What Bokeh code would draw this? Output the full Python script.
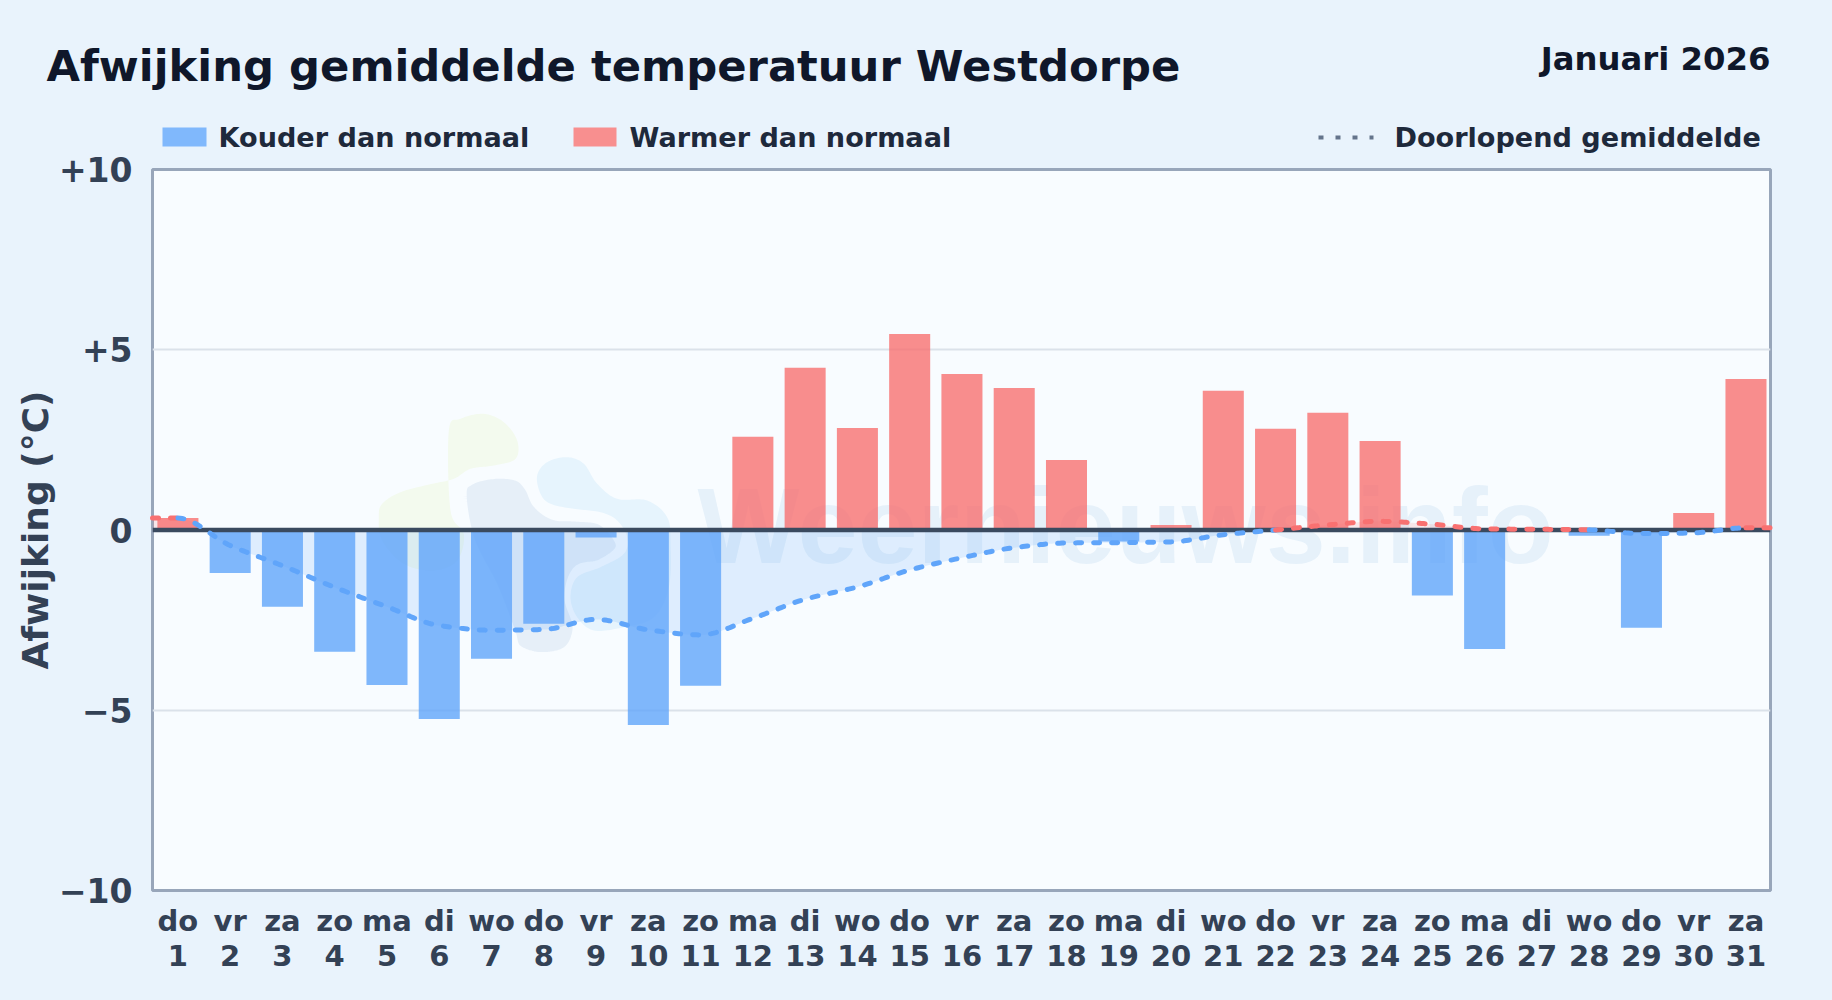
import numpy as np
from bokeh.plotting import figure
from bokeh.layouts import column
from bokeh.models import (Range1d, FixedTicker, Span, GlobalInlineStyleSheet)
from bokeh.core.properties import value
from bokeh.embed import file_html
from bokeh.resources import INLINE

# ---------- data ----------
weekdays = ["do","vr","za","zo","ma","di","wo","do","vr","za","zo","ma","di","wo","do","vr",
            "za","zo","ma","di","wo","do","vr","za","zo","ma","di","wo","do","vr","za"]
days = list(range(1, 32))
deviation = [0.33,-1.19,-2.13,-3.38,-4.30,-5.24,-3.57,-2.60,-0.21,-5.41,-4.32,2.59,4.50,2.83,5.44,4.33,
             3.94,1.94,-0.32,0.14,3.86,2.81,3.25,2.47,-1.82,-3.30,0.0,-0.16,-2.71,0.47,4.19]
running_mean = [0.33,-0.43,-0.99,-1.59,-2.13,-2.65,-2.78,-2.76,-2.48,-2.77,-2.91,-2.45,-1.92,-1.58,-1.11,-0.77,
                -0.49,-0.36,-0.35,-0.33,-0.13,0.0,0.14,0.24,0.16,0.03,0.02,0.005,-0.10,-0.08,0.06]
y_ticks = [-10,-5,0,5,10]
y_tick_labels = ["\u221210","\u22125","0","+5","+10"]

TITLE = "Afwijking gemiddelde temperatuur Westdorpe"
MONTH = "Januari 2026"
LEG = ["Kouder dan normaal", "Warmer dan normaal", "Doorlopend gemiddelde"]
FONT = "DejaVu Sans"
BG, PLOT_BG = "#e9f3fc", "#f8fcff"
BLUE, RED = "#60a5fa", "#f87171"

W, H = 1832, 1000
HEAD = 155
OVERLAP = 10
XR = (0.514, 31.469)

# ---------- header strip: title, month, legend ----------
hd = figure(width=W, height=HEAD, output_backend="svg", toolbar_location=None,
            x_range=Range1d(0, W), y_range=Range1d(HEAD, 0),
            min_border_left=0, min_border_right=0, min_border_top=0, min_border_bottom=0,
            background_fill_color=BG, border_fill_color=BG, outline_line_color=None)
hd.frame_align = False
hd.axis.visible = False
hd.grid.visible = False
hd.stylesheets = [GlobalInlineStyleSheet(css="html,body{background:%s;overflow:hidden;}" % BG)]

def label(text, x, y, size, color, align="left"):
    hd.text([x], [y], text=[text], text_font=value(FONT), text_font_style="bold",
            text_font_size=size, text_color=color, text_align=align, text_baseline="middle")

label(TITLE, 46, 65, "43.3px", "#0f172a")
label(MONTH, 1770, 58, "32.3px", "#0f172a", align="right")
label(LEG[0], 218, 137, "27.1px", "#1e293b")
label(LEG[1], 629, 137, "27.1px", "#1e293b")
label(LEG[2], 1394, 137, "27.1px", "#1e293b")
hd.quad(left=[162], right=[206], top=[127], bottom=[146], fill_color="#80b8fc", line_color=None)
hd.quad(left=[573], right=[616], top=[127], bottom=[146], fill_color="#f88f8f", line_color=None)
hd.line([1318, 1373], [137, 137], line_color="#64748b", line_width=4, line_dash="5 12")

# ---------- main chart ----------
p = figure(width=W, height=H - HEAD + OVERLAP, output_backend="svg", toolbar_location=None,
           x_range=Range1d(*XR), y_range=Range1d(-10, 10),
           min_border_left=152, min_border_right=62, min_border_top=169 - HEAD + OVERLAP, min_border_bottom=110,
           background_fill_color=PLOT_BG, border_fill_alpha=0,
           outline_line_color="#98a6ba", outline_line_width=3)
p.frame_align = False
p.margin = (-OVERLAP, 0, 0, 0)

# page pixel -> data, for the faint watermark only
F_L, F_R, F_T, F_B = 152.0, 1770.0, 169.0, 890.0
def dx(px): return XR[0] + (np.asarray(px, float) - F_L) / (F_R - F_L) * (XR[1] - XR[0])
def dy(py): return 10 - (np.asarray(py, float) - F_T) / (F_B - F_T) * 20

def smooth_closed(pts, n=14):
    P = np.array(pts, float); m = len(P); out = []
    for i in range(m):
        p0, p1, p2, p3 = P[i-1], P[i], P[(i+1) % m], P[(i+2) % m]
        for t in np.linspace(0, 1, n, endpoint=False):
            out.append(0.5*((2*p1) + (-p0+p2)*t + (2*p0-5*p1+4*p2-p3)*t*t + (-p0+3*p1-3*p2+p3)*t**3))
    return np.array(out)

def blob(pts, color, halo=False):
    Z = smooth_closed(pts)
    p.patch(dx(360 + Z[:,0]/3), dy(400 + Z[:,1]/3), fill_color=color,
            line_color=PLOT_BG if halo else None, line_width=9, line_join="round")

blob([(265,90),(300,55),(370,40),(430,65),(470,120),(465,175),(400,195),(330,205),(280,235),(215,250),
      (120,275),(65,310),(55,350),(65,420),(130,490),(220,510),(290,480),(310,400),(270,330)], "#f3faee")
blob([(305,280),(330,240),(400,222),(470,228),(505,260),(530,310),(580,345),(650,350),(720,360),(770,410),
      (775,450),(720,490),(650,510),(625,590),(650,680),(620,750),(540,768),(470,745),(450,690),(400,560),(330,420)],
     "#e6eff8", halo=True)
blob([(530,225),(560,185),(620,170),(670,190),(710,250),(770,295),(860,300),(920,350),(930,430),(925,560),
      (880,650),(790,680),(700,690),(650,650),(630,590),(650,530),(720,500),(790,460),(800,410),(770,360),
      (720,335),(640,325),(570,310),(540,280)], "#e6f4fd")
p.text(dx([697]), dy([525]), text=["Weernieuws.info"], text_font=value("Liberation Sans"),
       text_font_style="bold", text_font_size="108px",
       text_color="#3b82c4", text_alpha=0.09, text_align="left", text_baseline="alphabetic")

# smooth running-mean curve through the values
def monotone(xs, ys, n=24):
    xs, ys = np.asarray(xs, float), np.asarray(ys, float)
    h = np.diff(xs); d = np.diff(ys)/h
    m = np.zeros_like(ys)
    m[0], m[-1] = d[0], d[-1]
    for i in range(1, len(ys)-1):
        if d[i-1]*d[i] > 0:
            m[i] = 3*(h[i-1]+h[i])/((2*h[i]+h[i-1])/d[i-1] + (h[i]+2*h[i-1])/d[i])
    X, Y = [], []
    for i in range(len(h)):
        t = np.linspace(0, 1, n, endpoint=False)
        X.append(xs[i]+t*h[i])
        Y.append((2*t**3-3*t**2+1)*ys[i] + (t**3-2*t**2+t)*h[i]*m[i]
                 + (-2*t**3+3*t**2)*ys[i+1] + (t**3-t**2)*h[i]*m[i+1])
    return np.concatenate(X+[[xs[-1]]]), np.concatenate(Y+[[ys[-1]]])

lx = [XR[0]] + days + [XR[1]]
ly = [running_mean[0]] + running_mean + [running_mean[-1]]
cx, cy = monotone(lx, ly)

p.varea(cx, np.minimum(cy, 0), np.zeros_like(cy), fill_color=BLUE, fill_alpha=0.17)
p.varea(cx, np.maximum(cy, 0), np.zeros_like(cy), fill_color=RED, fill_alpha=0.15)

neg_d = [d for d, v in zip(days, deviation) if v < 0]
neg_v = [v for v in deviation if v < 0]
pos_d = [d for d, v in zip(days, deviation) if v > 0]
pos_v = [v for v in deviation if v > 0]
p.vbar(neg_d, width=0.785, bottom=0, top=neg_v, fill_color=BLUE, fill_alpha=0.8, line_color=None)
p.vbar(pos_d, width=0.785, bottom=0, top=pos_v, fill_color=RED, fill_alpha=0.8, line_color=None)

p.add_layout(Span(location=0, dimension="width", line_color="#3a4a5f", line_width=4.5, level="glyph"))

# dotted line: one run per colour change
n_seg = len(lx) - 1
seg_color = [BLUE if (ly[i] < 0 or ly[i+1] < 0) else RED for i in range(n_seg)]
start = 0
for i in range(1, n_seg + 1):
    if i == n_seg or seg_color[i] != seg_color[start]:
        a, b = lx[start], lx[i]
        mask = (cx >= a - 1e-9) & (cx <= b + 1e-9)
        r = p.line(cx[mask], cy[mask], line_color=seg_color[start], line_width=5,
                   line_dash="6 12", line_cap="round", line_join="round")
        r.level = "overlay"
        start = i

# axes and grid
p.xaxis.ticker = FixedTicker(ticks=days)
p.xaxis.major_label_overrides = {d: f"{w}\n{d}" for d, w in zip(days, weekdays)}
p.xaxis.major_label_text_font = FONT
p.xaxis.major_label_text_font_style = "bold"
p.xaxis.major_label_text_font_size = "29px"
p.xaxis.major_label_text_color = "#334155"
p.xaxis.major_label_text_line_height = 1.05
p.xaxis.major_label_standoff = 7
p.yaxis.ticker = FixedTicker(ticks=y_ticks)
p.yaxis.major_label_overrides = dict(zip(y_ticks, y_tick_labels))
p.yaxis.major_label_text_font = FONT
p.yaxis.major_label_text_font_style = "bold"
p.yaxis.major_label_text_font_size = "33px"
p.yaxis.major_label_text_color = "#334155"
p.yaxis.major_label_standoff = 14
p.yaxis.axis_label = "Afwijking (\u00b0C)"
p.yaxis.axis_label_text_font = FONT
p.yaxis.axis_label_text_font_style = "bold"
p.yaxis.axis_label_text_font_size = "36px"
p.yaxis.axis_label_text_color = "#334155"
p.yaxis.axis_label_standoff = 0
for ax in (p.xaxis, p.yaxis):
    ax.axis_line_color = None
    ax.major_tick_line_color = None
    ax.minor_tick_line_color = None
p.xgrid.grid_line_color = None
p.ygrid.ticker = FixedTicker(ticks=[-5, 5])
p.ygrid.grid_line_color = "#dbe2ea"
p.ygrid.grid_line_width = 2

layout = column(hd, p, spacing=0)
open("out.html", "w").write(file_html(layout, INLINE))
